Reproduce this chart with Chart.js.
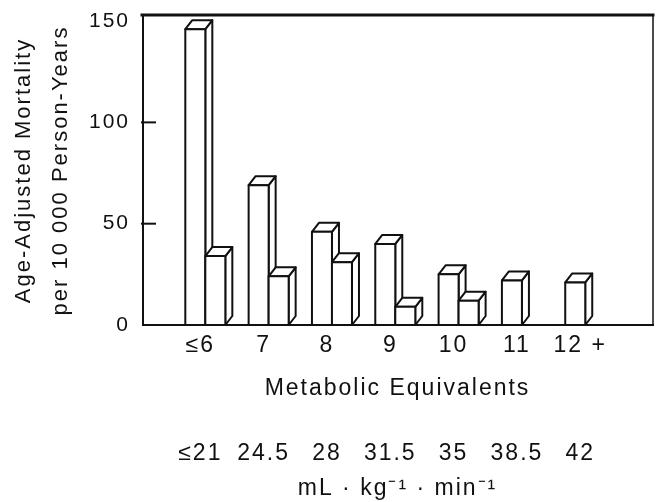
<!DOCTYPE html>
<html>
<head>
<meta charset="utf-8">
<script src="https://cdn.jsdelivr.net/npm/chart.js@4"></script>
<style>
  html, body { margin: 0; padding: 0; background: #fff; }
  #wrap { width: 662px; height: 502px; }
</style>
</head>
<body>
<div id="wrap"><canvas id="mortality-chart"></canvas></div>
<script>
// values
const metLabels = ['≤6', '7', '8', '9', '10', '11', '12 +'];
const metValues = [6, 7, 8, 9, 10, 11, 12];
const vo2Labels = ['≤21', '24.5', '28', '31.5', '35', '38.5', '42'];
const mortalityFirst = [146, 69, 46, 40, 25, 22, 21];
const mortalitySecond = [34, 24, 31, 9, 12, null, null];
const yTicks = [0, 50, 100, 150];

const FONT = "'Liberation Sans', Arial, sans-serif";
const INK = '#111';
const DX = 7, DY = 9; // depth of the fake 3d boxes

// old print has loose letter spacing
const spacing = {
  id: 'spacing',
  beforeUpdate(chart) { chart.ctx.letterSpacing = '2px'; },
  beforeDraw(chart) { chart.ctx.letterSpacing = '2px'; }
};

// side + top faces, drawn bar by bar so the second bar hides the first one's side
const boxes = {
  id: 'boxes',
  afterDatasetsDraw(chart) {
    const ctx = chart.ctx;
    const metas = [0, 1].map(i => chart.getDatasetMeta(i));
    ctx.save();
    ctx.lineWidth = 2;
    ctx.strokeStyle = INK;
    ctx.fillStyle = '#fff';
    ctx.lineJoin = 'round';
    for (let i = 0; i < metValues.length; i++) {
      metas.forEach((meta, d) => {
        const v = chart.data.datasets[d].data[i].y;
        if (v == null) return;
        const el = meta.data[i];
        const { x, y, base, width } = el.getProps(['x', 'y', 'base', 'width'], true);
        const l = x - width / 2, r = x + width / 2;
        ctx.beginPath();
        ctx.moveTo(r, y);
        ctx.lineTo(r + DX, y - DY);
        ctx.lineTo(r + DX, base - DY);
        ctx.lineTo(r, base);
        ctx.closePath();
        ctx.fill(); ctx.stroke();
        ctx.beginPath();
        ctx.moveTo(l, y);
        ctx.lineTo(l + DX, y - DY);
        ctx.lineTo(r + DX, y - DY);
        ctx.lineTo(r, y);
        ctx.closePath();
        ctx.fill(); ctx.stroke();
        ctx.beginPath();
        ctx.rect(l, y, width, base - y);
        ctx.fill(); ctx.stroke();
      });
    }
    ctx.restore();
  }
};

// box frame and the inward y ticks
const frame = {
  id: 'frame',
  afterDraw(chart) {
    const { ctx, chartArea: a } = chart;
    const ys = chart.scales.y;
    ctx.save();
    ctx.strokeStyle = INK;
    ctx.lineCap = 'square';
    ctx.lineWidth = 2;
    ctx.beginPath();
    ctx.moveTo(a.left + 1, a.top);
    ctx.lineTo(a.left + 1, a.bottom);
    ctx.lineTo(a.right, a.bottom);
    ctx.stroke();
    ctx.lineWidth = 1.5;
    ctx.beginPath();
    ctx.moveTo(a.right, a.bottom);
    ctx.lineTo(a.right, a.top);
    ctx.stroke();
    ctx.lineWidth = 3;
    ctx.beginPath();
    ctx.moveTo(a.left, a.top - 1);
    ctx.lineTo(a.right, a.top - 1);
    ctx.stroke();
    ctx.lineWidth = 2;
    [50, 100].forEach(t => {
      const py = ys.getPixelForValue(t);
      ctx.beginPath();
      ctx.moveTo(a.left, py);
      ctx.lineTo(a.left + 13, py);
      ctx.stroke();
    });
    ctx.restore();
  }
};

const noPad = (s) => { s.paddingTop = 0; s.paddingBottom = 0; s.paddingLeft = 0; s.paddingRight = 0; };

const ctx = document.getElementById('mortality-chart').getContext('2d');
new Chart(ctx, {
  type: 'bar',
  data: {
    datasets: [
      {
        label: 'Series 1',
        data: metValues.map((x, i) => ({ x: x, y: mortalityFirst[i] })),
        backgroundColor: '#fff',
        borderColor: INK,
        borderWidth: 1,
      },
      {
        label: 'Series 2',
        data: metValues.map((x, i) => ({ x: x, y: mortalitySecond[i] })),
        backgroundColor: '#fff',
        borderColor: INK,
        borderWidth: 1,
      },
    ],
  },
  options: {
    responsive: true,
    maintainAspectRatio: false,
    animation: false,
    categoryPercentage: 0.632,
    barPercentage: 1,
    layout: { padding: { top: 16, right: 9, left: 0, bottom: 0 } },
    plugins: {
      legend: { display: false },
      tooltip: { enabled: false },
    },
    scales: {
      y: {
        min: 0,
        max: 152.5,
        afterBuildTicks: (s) => { s.ticks = yTicks.map(v => ({ value: v })); },
        afterFit: (s) => { s.width = 142; noPad(s); },
        grid: { display: false, drawTicks: false },
        border: { display: false },
        ticks: { color: INK, padding: 12, font: { family: FONT, size: 21 } },
        title: {
          display: true,
          text: ['Age-Adjusted Mortality', 'per 10 000 Person-Years'],
          color: INK,
          font: { family: FONT, size: 22, lineHeight: 1.65 },
          padding: { top: 6, bottom: 0 },
        },
      },
      x: {
        type: 'linear',
        offset: false,
        min: 5,
        max: 13.07,
        afterBuildTicks: (s) => { s.ticks = metValues.map(v => ({ value: v })); },
        afterFit: (s) => { s.height = 85; noPad(s); },
        grid: { display: false, drawTicks: false },
        border: { display: false },
        ticks: {
          color: INK,
          padding: 7,
          labelOffset: -5,
          maxRotation: 0,
          font: { family: FONT, size: 23 },
          callback: (v, i) => metLabels[i],
        },
        title: {
          display: true,
          text: 'Metabolic Equivalents',
          color: INK,
          font: { family: FONT, size: 23 },
          padding: { top: 0, bottom: 8 },
        },
      },
      x2: {
        type: 'linear',
        position: 'bottom',
        weight: 1,
        offset: false,
        min: 5,
        max: 13.07,
        afterBuildTicks: (s) => { s.ticks = metValues.map(v => ({ value: v })); },
        afterFit: (s) => { s.height = 92; noPad(s); },
        grid: { display: false, drawTicks: false },
        border: { display: false },
        ticks: {
          color: INK,
          padding: 30,
          labelOffset: -5,
          maxRotation: 0,
          font: { family: FONT, size: 23 },
          callback: (v, i) => vo2Labels[i],
        },
        title: {
          display: true,
          text: 'mL · kg⁻¹ · min⁻¹',
          color: INK,
          font: { family: FONT, size: 23 },
          padding: { top: 0, bottom: 0 },
        },
      },
    },
  },
  plugins: [spacing, boxes, frame],
});
</script>
</body>
</html>
